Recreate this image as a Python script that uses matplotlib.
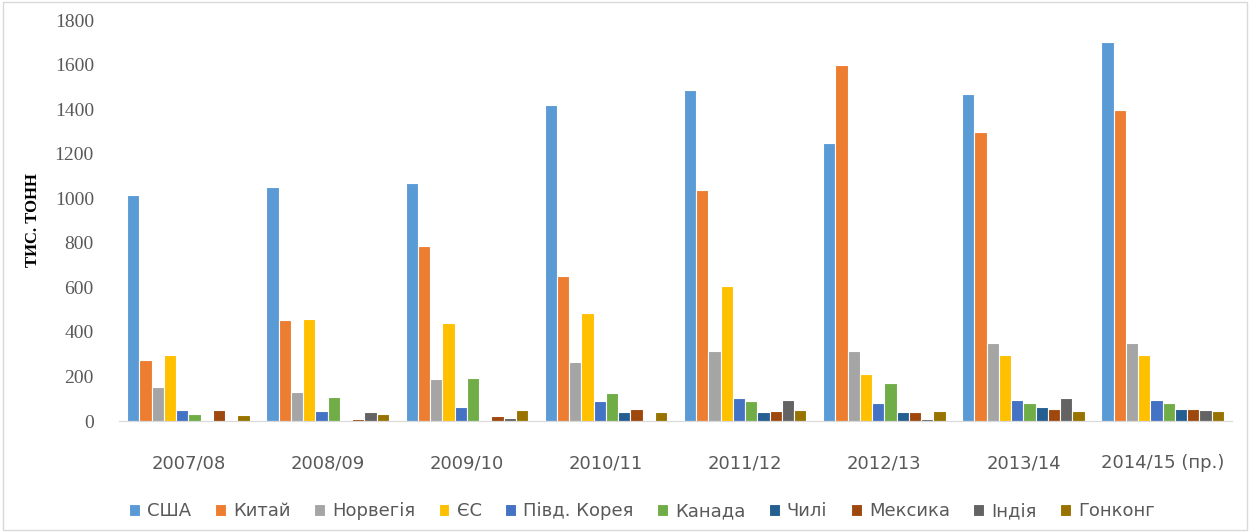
import numpy as np
import matplotlib.pyplot as plt
from matplotlib.patches import Rectangle

seasons = ['2007/08', '2008/09', '2009/10', '2010/11', '2011/12',
           '2012/13', '2013/14', '2014/15 (пр.)']
countries = ['США', 'Китай', 'Норвегія', 'ЄС', 'Півд. Корея',
             'Канада', 'Чилі', 'Мексика', 'Індія', 'Гонконг']

usa    = [1015, 1050, 1068, 1419, 1486, 1248, 1468, 1700]
china  = [274, 453, 785, 651, 1035, 1598, 1298, 1396]
norway = [153, 130, 188, 263, 314, 314, 349, 349]
eu     = [296, 458, 440, 485, 606, 211, 298, 298]
korea  = [49, 45, 61, 90, 102, 79, 96, 96]
canada = [33, 106, 193, 124, 90, 171, 79, 79]
chile  = [6, 0, 0, 39, 39, 39, 61, 55]
mexico = [49, 10, 21, 55, 45, 39, 55, 55]
india  = [0, 39, 15, 4, 96, 9, 102, 49]
hk     = [27, 33, 49, 39, 49, 45, 45, 45]

series = [usa, china, norway, eu, korea, canada, chile, mexico, india, hk]
colors = ['#5B9BD5', '#ED7D31', '#A5A5A5', '#FFC000', '#4472C4',
          '#70AD47', '#255E91', '#9E480E', '#636363', '#997300']

narrow = ['Liberation Sans Narrow', 'DejaVu Sans Condensed', 'DejaVu Sans']

fig = plt.figure(figsize=(12.51, 5.32), dpi=100)
ax = fig.add_axes([0.095, 0.2086, 0.89, 0.7538])

x = np.arange(len(seasons))
w = 0.088
for i, (vals, c) in enumerate(zip(series, colors)):
    ax.bar(x + (i - 4.5) * w, vals, w, color=c, edgecolor='white',
           linewidth=0.8, label=countries[i])

ax.set_xlim(-0.5, len(seasons) - 0.5)
ax.set_ylim(0, 1800)
ax.set_yticks(range(0, 1801, 200))
ax.set_xticks(x)
ax.set_xticklabels(seasons, fontsize=13, color='#595959', family=narrow)
for lab in ax.get_yticklabels():
    lab.set_fontsize(14)
    lab.set_color('#595959')
    lab.set_family('Liberation Serif')
ax.tick_params(axis='x', length=0, pad=24)
ax.tick_params(axis='y', length=0, pad=18)
for s in ['top', 'right', 'left']:
    ax.spines[s].set_visible(False)
ax.spines['bottom'].set_color('#D9D9D9')

ax.set_ylabel('ТИС. ТОНН', fontsize=12, fontweight='bold',
              family='Liberation Serif', labelpad=10)

ax.legend(loc='center', bbox_to_anchor=(0.47, -0.225), ncol=10, frameon=False,
          prop={'family': narrow, 'size': 13},
          handlelength=0.6, handleheight=0.6, handletextpad=0.4, columnspacing=1.3,
          labelcolor='#595959')

fig.patches.append(Rectangle((0.002, 0.003), 0.995, 0.993, transform=fig.transFigure,
                             fill=False, edgecolor='#D9D9D9', linewidth=1))

fig.savefig('out.png', dpi=100)
